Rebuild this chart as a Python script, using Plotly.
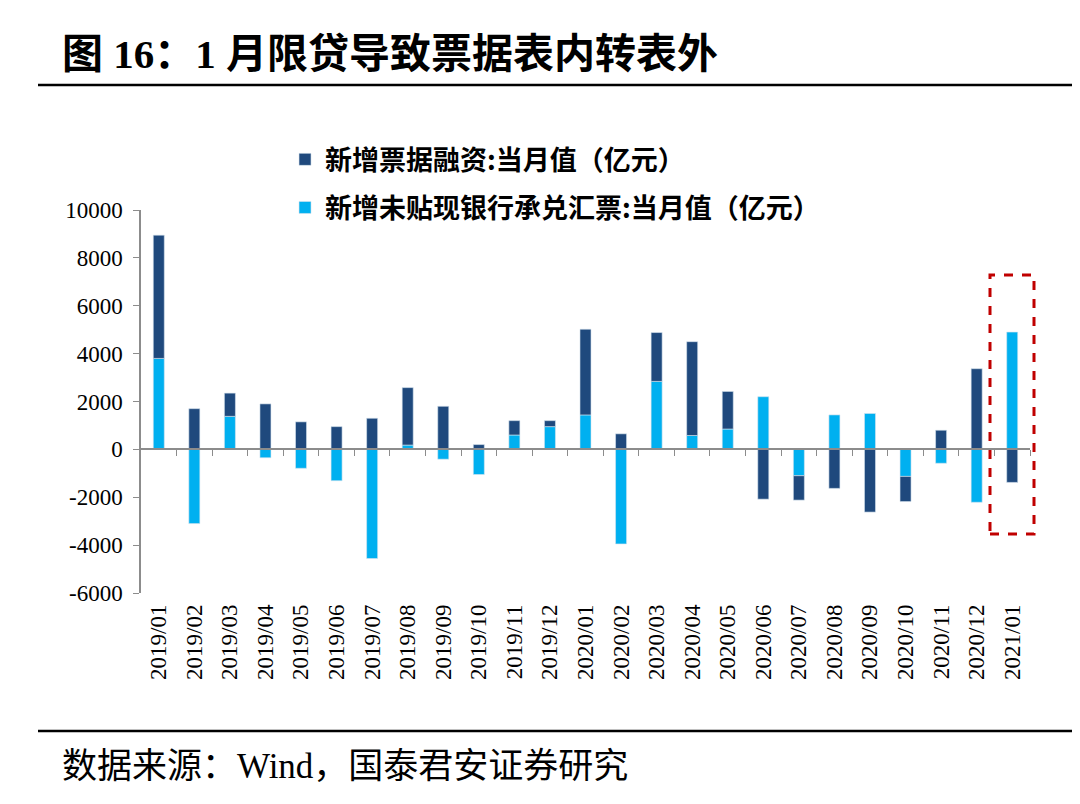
import plotly.graph_objects as go

months = ['2019/01', '2019/02', '2019/03', '2019/04', '2019/05', '2019/06', '2019/07',
          '2019/08', '2019/09', '2019/10', '2019/11', '2019/12', '2020/01', '2020/02',
          '2020/03', '2020/04', '2020/05', '2020/06', '2020/07', '2020/08', '2020/09',
          '2020/10', '2020/11', '2020/12', '2021/01']

# 新增未贴现银行承兑汇票:当月值（亿元）
undiscounted = [3800, -3100, 1380, -350, -790, -1310, -4560, 180, -410, -1050, 600, 950,
                1440, -3950, 2840, 580, 850, 2200, -1100, 1440, 1500, -1130, -580, -2210, 4900]
# 新增票据融资:当月值（亿元）
bill_financing = [5150, 1700, 970, 1900, 1150, 950, 1300, 2400, 1800, 200, 600, 250,
                  3580, 650, 2040, 3920, 1570, -2080, -1020, -1630, -2620, -1050, 800, 3370, -1380]

y_ticks = [-6000, -4000, -2000, 0, 2000, 4000, 6000, 8000, 10000]
y_tick_text = [str(v) for v in y_ticks]

name_bill = '新增票据融资:当月值（亿元）'
name_und = '新增未贴现银行承兑汇票:当月值（亿元）'

DARK = '#1F497D'
LIGHT = '#00B0F0'
AXIS = '#8C8C8C'
SERIF = 'Liberation Serif, Noto Sans CJK SC'
CJK = 'Noto Sans CJK SC, Liberation Serif'

# The page places the figure with an 8px offset, so the figure is 8px smaller
W, H = 1072, 796
L, T, PW, PH = 133, 202, 889, 383

fig = go.Figure()
fig.add_trace(go.Bar(x=months, y=undiscounted, name=name_und, legendgroup='b', legendrank=2,
                     marker=dict(color=LIGHT, line=dict(color='#d6e4ee', width=0.6))))
fig.add_trace(go.Bar(x=months, y=bill_financing, name=name_bill, legendgroup='a', legendrank=1,
                     marker=dict(color=DARK, line=dict(color='#d6e4ee', width=0.6))))
# helper (empty) trace to carry the zero-line axis with boundary ticks
fig.add_trace(go.Scatter(x=[], y=[], xaxis='x2', yaxis='y', showlegend=False, hoverinfo='skip'))

n = len(months)
fig.update_layout(
    width=W, height=H,
    paper_bgcolor='white', plot_bgcolor='white',
    margin=dict(l=L, r=W - L - PW, t=T, b=H - T - PH, autoexpand=False),
    barmode='relative', bargap=0.69,
    showlegend=True,
    legend=dict(x=0.162, y=1.195, xanchor='left', yanchor='top', orientation='v',
                traceorder='grouped', tracegroupgap=10,
                font=dict(family=CJK, size=27, color='black', weight='bold'),
                bgcolor='rgba(0,0,0,0)', itemwidth=30),
    title=dict(text='图 16：1 月限贷导致票据表内转表外', x=54/W, xanchor='left',
               y=1-46/H, yanchor='middle', xref='container', yref='container',
               font=dict(family=SERIF, size=41, color='black', weight='bold')),
    xaxis=dict(type='category', showline=False, ticks='', showgrid=False, zeroline=False,
               tickangle=-90, tickfont=dict(family=SERIF, size=23, color='black'),
               ticklabelstandoff=6, range=[-0.5, n - 0.5]),
    xaxis2=dict(overlaying='x', anchor='free', position=6000/16000, side='bottom',
                range=[-0.5, n - 0.5], showline=True, linecolor=AXIS, linewidth=1.5,
                ticks='outside', ticklen=6, tickcolor=AXIS, tickwidth=1.3,
                tickvals=[i + 0.5 for i in range(n)], showticklabels=False,
                showgrid=False, zeroline=False),
    yaxis=dict(range=[-6000, 10000], tickvals=y_ticks, ticktext=y_tick_text,
               showline=True, linecolor=AXIS, linewidth=1.5, ticklabelstandoff=6,
               ticks='outside', ticklen=6, tickcolor=AXIS, tickwidth=1.3, showgrid=False,
               zeroline=False, tickfont=dict(family=SERIF, size=23, color='black')),
    annotations=[dict(text='数据来源：Wind，国泰君安证券研究', xref='paper', yref='paper',
                      x=(60-141)/889, y=(593-766)/383, xanchor='left', yanchor='middle',
                      showarrow=False, font=dict(family=SERIF, size=35, color='black'))],
    shapes=[
        dict(type='line', xref='paper', yref='paper', x0=(38-141)/889, x1=(1080-141)/889,
             y0=(593-85)/383, y1=(593-85)/383, line=dict(color='black', width=2.5)),
        dict(type='line', xref='paper', yref='paper', x0=(38-141)/889, x1=(1080-141)/889,
             y0=(593-731)/383, y1=(593-731)/383, line=dict(color='black', width=2.5)),
        dict(type='rect', xref='paper', yref='paper', x0=(990-141)/889, x1=(1034-141)/889,
             y0=(593-534)/383, y1=(593-275)/383, line=dict(color='#C00000', width=3, dash='dash')),
    ],
)

fig.write_html('out.html')
